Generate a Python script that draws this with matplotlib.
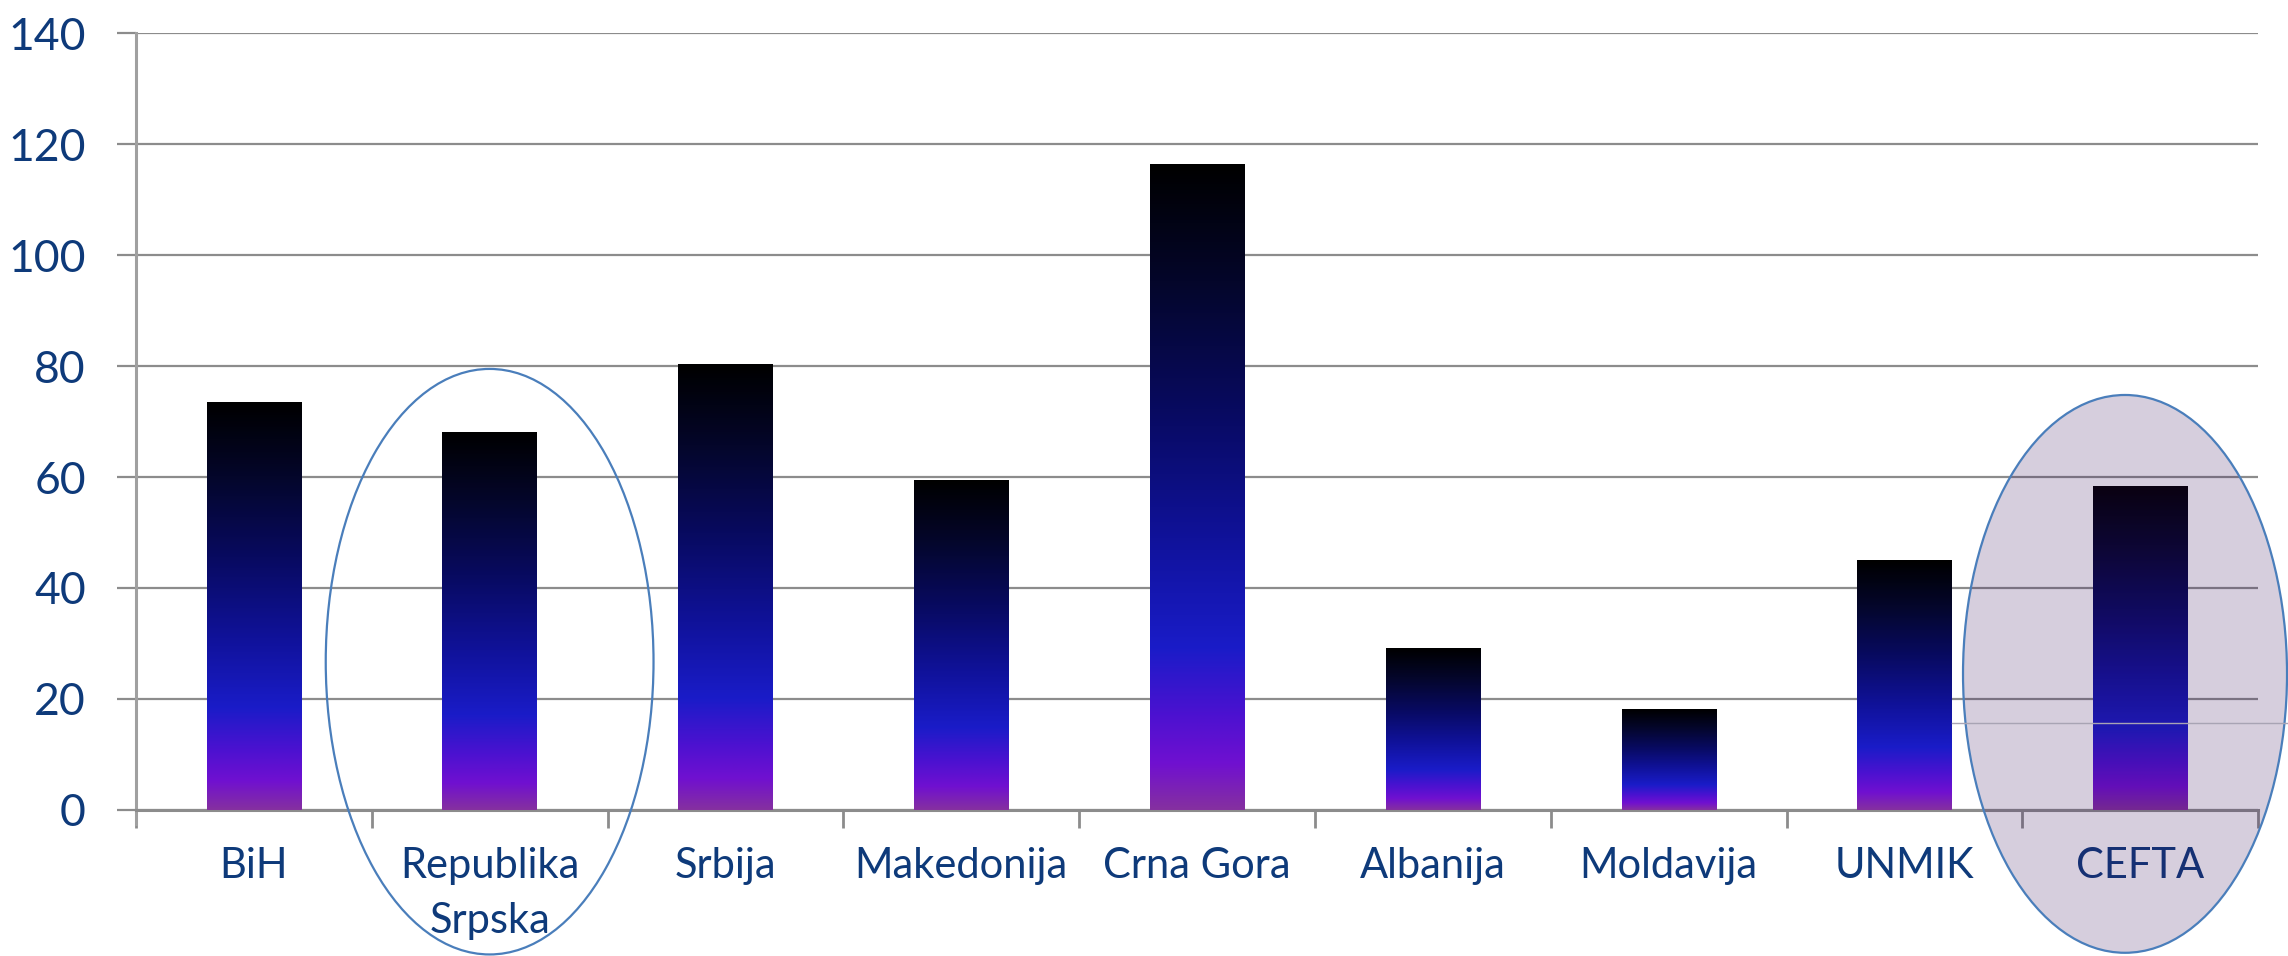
import numpy as np
import matplotlib
matplotlib.use('Agg')
import matplotlib.pyplot as plt
from matplotlib.colors import LinearSegmentedColormap
from matplotlib.patches import Ellipse

# podaci
categories = ['BiH', 'Republika\nSrpska', 'Srbija', 'Makedonija', 'Crna Gora',
              'Albanija', 'Moldavija', 'UNMIK', 'CEFTA']
values = [73.5, 68.2, 80.3, 59.5, 116.4, 29.2, 18.2, 45.0, 58.4]
y_ticks = [0, 20, 40, 60, 80, 100, 120, 140]

text_color = '#0e3a7a'
grid_color = '#8c8c8c'

plt.rcParams['font.family'] = ['Lato', 'DejaVu Sans']

fig = plt.figure(figsize=(22.88, 9.56), dpi=100)
ax = fig.add_axes([0.0594, 0.153, 0.9276, 0.812])

x = np.arange(len(categories))
bars = ax.bar(x, values, width=0.40, color='none', zorder=3)

# gradijent od dna (ljubicasto) do vrha (crno)
grad = LinearSegmentedColormap.from_list('bar_grad', [
    (0.00, '#8530a0'),
    (0.07, '#7010d0'),
    (0.15, '#4a12d0'),
    (0.25, '#1a1cc8'),
    (0.42, '#10129a'),
    (0.62, '#080a60'),
    (0.82, '#04062a'),
    (1.00, '#000000'),
])
g = np.linspace(0, 1, 256).reshape(-1, 1)
for b in bars:
    x0, y0 = b.get_x(), b.get_y()
    w, h = b.get_width(), b.get_height()
    im = ax.imshow(g, cmap=grad, origin='lower', aspect='auto',
                   extent=[x0, x0 + w, y0, y0 + h], zorder=3)
    im.set_clip_path(b)

ax.set_xlim(-0.5, len(categories) - 0.5)
ax.set_ylim(0, 140)
ax.set_yticks(y_ticks)
ax.yaxis.grid(True, color=grid_color, linewidth=1.6, zorder=0)
ax.set_axisbelow(True)

# x ose: kvačice na granicama kategorija
ax.set_xticks(np.arange(len(categories) + 1) - 0.5)
ax.set_xticklabels([])
ax.set_xticks(x, minor=True)
ax.set_xticklabels(categories, minor=True, fontsize=30, color=text_color,
                   linespacing=1.55)
ax.tick_params(axis='x', which='minor', length=0, pad=27)
ax.tick_params(axis='x', which='major', length=13, width=2, color=grid_color)
ax.tick_params(axis='y', length=14, width=1.6, color=grid_color,
               labelsize=32, labelcolor=text_color, pad=22)

for s in ['top', 'right']:
    ax.spines[s].set_visible(False)
ax.spines['left'].set_color('#a0a0a0')
ax.spines['left'].set_linewidth(2.2)
ax.spines['bottom'].set_color(grid_color)
ax.spines['bottom'].set_linewidth(2.2)
ax.spines['left'].set_bounds(-2.5, 140)

# elipse
e1 = Ellipse((1.0, 26.7), 1.39, 105.6, fill=False, edgecolor='#4a7ebb',
             linewidth=1.6, zorder=5, clip_on=False)
ax.add_patch(e1)
e2 = Ellipse((7.935, 24.5), 1.374, 100.6, facecolor=(0.2, 0.04, 0.35, 0.2),
             edgecolor='#4a7ebb', linewidth=1.6, zorder=5, clip_on=False)
ax.add_patch(e2)
ln, = ax.plot([7.2, 8.7], [15.7, 15.7], color='#a8a4b4', linewidth=1.0,
              zorder=5, clip_on=False)
ln.set_clip_path(e2)

fig.savefig('out.png', dpi=100)
